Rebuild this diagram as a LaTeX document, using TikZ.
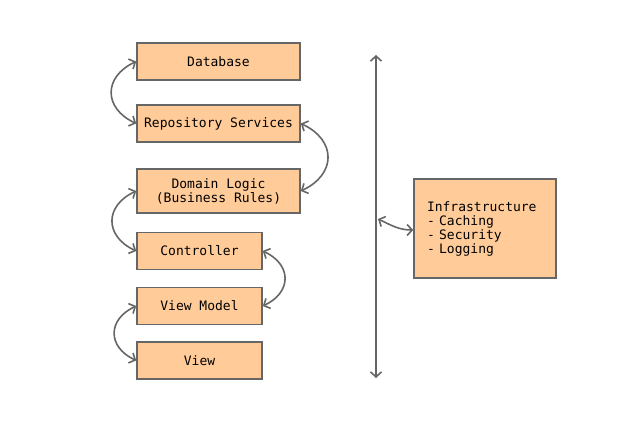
\documentclass[tikz,border=0pt]{standalone}
\usepackage{fontspec}
\newfontfamily\layerfont{DejaVu Sans Mono}
\usetikzlibrary{arrows.meta}
\definecolor{peach}{HTML}{FFCC99}
\definecolor{edge}{HTML}{666666}

\begin{document}
\begin{tikzpicture}
      [   x=1pt,y=1pt,
          layer/.style={draw=edge,fill=peach,line width=1.6pt,minimum width=#1,
            minimum height=37pt,inner sep=0pt,font=\layerfont\fontsize{13}{14}\selectfont},
          link/.style={draw=edge,line width=1.6pt,
            {Straight Barb[length=5pt,width=11pt]}-{Straight Barb[length=5pt,width=11pt]}},
      ]
          \useasboundingbox (0,0) rectangle (632,423);
          \node[layer=163pt] (db) at (218.5,361.5) {Database};
          \node[layer=163pt] (repo) at (218.5,299.5) {Repository Services};
          \node[layer=163pt,minimum height=44pt,align=center] (domain) at (218.5,232) {Domain Logic\\(Business Rules)};
          \node[layer=125pt] (ctrl) at (199.5,172) {Controller};
          \node[layer=125pt] (vm) at (199.5,117) {View Model};
          \node[layer=125pt] (view) at (199.5,62.5) {View};
          \node[layer=142pt,minimum height=99pt,text width=116pt,inner xsep=13pt,align=left] (infra) at (485,194.5)
              {Infrastructure\\- Caching\\- Security\\- Logging};
          % neighbouring layers
          \foreach \a/\b in {db/repo,domain/ctrl,vm/view}
          {   \draw[link] (\a.west) to[out=205,in=155,looseness=1.5] (\b.west);
          }
          \foreach \a/\b in {repo/domain,ctrl/vm}
          {   \draw[link] (\a.east) to[out=-25,in=25,looseness=1.5] (\b.east);
          }
          % cross-cutting
          \coordinate (top) at (376,368);
          \coordinate (bottom) at (376,45);
          \coordinate (tap) at (378,204);
          \draw[link] (top) -- (bottom);
          \draw[link] (tap) to[out=-25,in=180] (infra.west |- 0,193);
    \end{tikzpicture}
\end{document}
